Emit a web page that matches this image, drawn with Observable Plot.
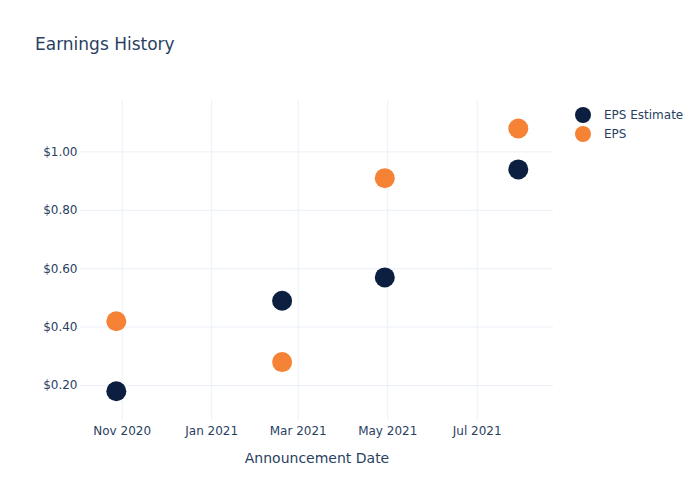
<!DOCTYPE html>
<html>
<head>
<meta charset="utf-8">
<script src="https://cdn.jsdelivr.net/npm/d3@7"></script>
<script src="https://cdn.jsdelivr.net/npm/@observablehq/plot@0.6"></script>
<style>
  html, body { margin: 0; padding: 0; background: #fff; }
  #wrap { position: relative; width: 700px; height: 500px; font-family: "DejaVu Sans", Verdana, sans-serif; color: #2a3f5f; }
  #title { position: absolute; left: 35px; top: 34px; font-size: 17px; white-space: nowrap; }
  #legend { position: absolute; left: 575px; top: 105px; font-size: 12px; }
  #legend .item { display: flex; align-items: center; height: 19px; }
  #legend svg { margin-right: 13px; }
  #chart { position: absolute; left: 0; top: 0; }
</style>
</head>
<body>
<div id="wrap">
  <div id="chart"></div>
  <div id="title">Earnings History</div>
  <div id="legend"></div>
</div>
<script>
const dates = ["2020-10-28", "2021-02-18", "2021-04-29", "2021-07-29"];
const epsEstimate = [0.18, 0.49, 0.57, 0.94];
const eps = [0.42, 0.28, 0.91, 1.08];
const seriesNames = ["EPS Estimate", "EPS"];
const seriesColors = ["#0c1f40", "#f58235"];
const yTicks = [0.2, 0.4, 0.6, 0.8, 1.0];
const xTicks = ["2020-11-01", "2021-01-01", "2021-03-01", "2021-05-01", "2021-07-01"];

const parse = d3.utcParse("%Y-%m-%d");
const rows = [];
dates.forEach((d, i) => rows.push({date: parse(d), value: epsEstimate[i], series: seriesNames[0]}));
dates.forEach((d, i) => rows.push({date: parse(d), value: eps[i], series: seriesNames[1]}));

const textColor = "#2a3f5f";
const gridColor = "#ebf0f8";

const chart = Plot.plot({
  width: 700,
  height: 500,
  marginLeft: 80,
  marginRight: 147,
  marginTop: 100,
  marginBottom: 80,
  style: {fontFamily: "'DejaVu Sans', Verdana, sans-serif", fontSize: "12px", color: textColor, background: "#fff"},
  x: {
    type: "utc",
    domain: [new Date(Date.UTC(2020, 9, 3, 14)), new Date(Date.UTC(2021, 7, 22))],
    ticks: xTicks.map(parse),
    tickFormat: d3.utcFormat("%b %Y"),
    tickSize: 0,
    tickPadding: 6,
    label: null
  },
  y: {
    domain: [0.08, 1.176],
    ticks: yTicks,
    tickFormat: d => "$" + d.toFixed(2),
    tickSize: 0,
    tickPadding: 3,
    label: null
  },
  color: {domain: seriesNames, range: seriesColors},
  marks: [
    Plot.gridX(xTicks.map(parse), {stroke: gridColor, strokeOpacity: 1}),
    Plot.gridY(yTicks, {stroke: gridColor, strokeOpacity: 1}),
    Plot.axisX({ticks: xTicks.map(parse), tickFormat: d3.utcFormat("%b %Y"), tickSize: 0, tickPadding: 6, fill: textColor, label: null}),
    Plot.axisY({ticks: yTicks, tickFormat: d => "$" + d.toFixed(2), tickSize: 0, tickPadding: 3, fill: textColor, label: null}),
    Plot.text(["Announcement Date"], {frameAnchor: "bottom", dy: 42, fontSize: 14, fill: textColor}),
    Plot.dot(rows, {x: "date", y: "value", fill: "series", r: 10, stroke: "none"})
  ]
});
document.getElementById("chart").appendChild(chart);

const legend = document.getElementById("legend");
seriesNames.forEach((name, i) => {
  const item = document.createElement("div");
  item.className = "item";
  item.innerHTML = `<svg width="16" height="16"><circle cx="8" cy="8" r="8" fill="${seriesColors[i]}"></circle></svg><span>${name}</span>`;
  legend.appendChild(item);
});
</script>
</body>
</html>
